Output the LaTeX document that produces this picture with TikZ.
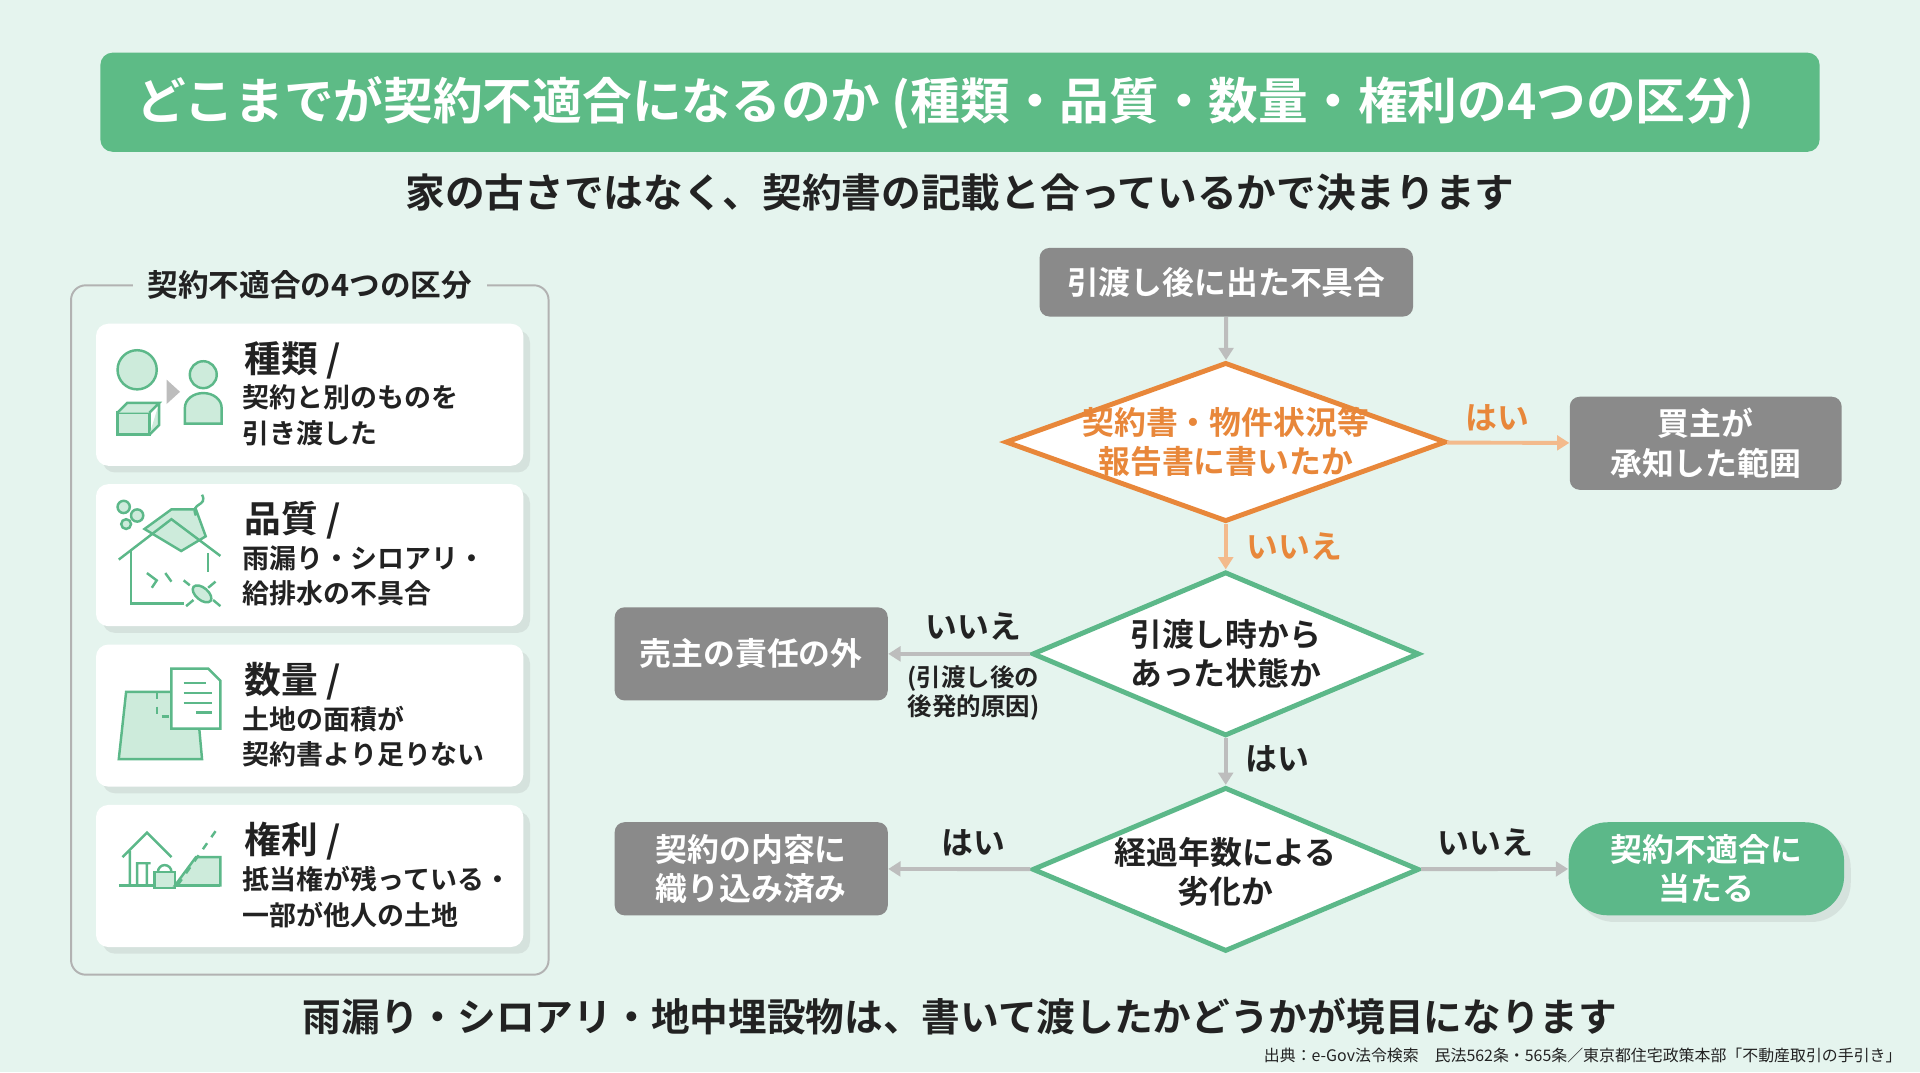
\documentclass[tikz,border=0pt]{standalone}
\usepackage{fontspec}
\setmainfont{Noto Sans CJK JP}[BoldFont={* Bold}]
\usetikzlibrary{shapes.geometric,arrows.meta,shadows}
\definecolor{bg}{HTML}{E5F4EE}
\definecolor{tgreen}{HTML}{5DBB86}
\definecolor{dgreen}{HTML}{5CB889}
\definecolor{lgreen}{HTML}{CDEBDB}
\definecolor{gbox}{HTML}{8A8A8A}
\definecolor{org}{HTML}{E8873A}
\definecolor{lorg}{HTML}{F3BA8C}
\definecolor{larr}{HTML}{BDBDBD}
\definecolor{txt}{HTML}{222222}
\tikzset{
 gbox/.style={fill=gbox,rounded corners=4pt,text=white,font=\bfseries\fontsize{13}{16}\selectfont,align=center,inner sep=0},
 dia/.style={diamond,draw,fill=white,line width=2pt,inner sep=0},
 dtext/.style={font=\bfseries\fontsize{13}{16}\selectfont,align=center,text=txt},
 card/.style={fill=white,rounded corners=5pt,drop shadow={opacity=0.15}},
 ctitle/.style={anchor=west,font=\bfseries\fontsize{15}{18}\selectfont,text=txt},
 cbody/.style={anchor=north west,font=\bfseries\fontsize{11}{14.5}\selectfont,text=txt,align=left,inner sep=0},
 arr/.style={-{Triangle[length=5pt,width=6pt]},line width=1.6pt,draw=larr},
 oarr/.style={-{Triangle[length=5pt,width=6pt]},line width=1.6pt,draw=lorg},
 lab/.style={font=\bfseries\fontsize{13}{16}\selectfont,text=txt},
 icon/.style={draw=dgreen,line width=1pt},
}
\begin{document}
\begin{tikzpicture}[x=0.5pt,y=-0.5pt]
\fill[bg] (0,0) rectangle (1568,875.5);
\useasboundingbox (0,0) rectangle (1568,875.5);
% title
\node[fill=tgreen,rounded corners=5pt,minimum width=702pt,minimum height=40.5pt] (title) at (784,83.5) {};
\node[text=white,font=\bfseries\fontsize{20.3}{24}\selectfont] (titlet) at (772,84) {どこまでが契約不適合になるのか (種類・品質・数量・権利の4つの区分)};
\node[font=\bfseries\fontsize{16.2}{18}\selectfont,text=txt] (sub) at (784,157) {家の古さではなく、契約書の記載と合っているかで決まります};
% left panel
\draw[draw=gray!60,line width=0.8pt,rounded corners=6pt] (58,233) rectangle (448,796);
\node[fill=bg,font=\bfseries\fontsize{12.5}{15}\selectfont,text=txt,inner xsep=6pt] (ptitle) at (253,233) {契約不適合の4つの区分};
\foreach \y/\n in {264/c1,395/c2,526/c3,657/c4}{
 \node[card,minimum width=174.5pt,minimum height=58pt,anchor=north west] (\n) at (78,\y) {};
}
\node[ctitle] (t1) at (193,294) {種類 /};
\node[cbody] (b1) at (198,314) {契約と別のものを\\引き渡した};
\node[ctitle] (t2) at (193,425) {品質 /};
\node[cbody] (b2) at (198,445) {雨漏り・シロアリ・\\給排水の不具合};
\node[ctitle] (t3) at (193,556) {数量 /};
\node[cbody] (b3) at (198,576) {土地の面積が\\契約書より足りない};
\node[ctitle] (t4) at (193,687) {権利 /};
\node[cbody] (b4) at (198,707) {抵当権が残っている・\\一部が他人の土地};
% icon 1
\draw[icon,fill=lgreen] (112,302) circle (8pt);
\draw[icon,fill=lgreen] (96,337) rectangle (122,355);
\draw[icon,fill=lgreen] (96,337) -- (104,329) -- (130,329) -- (122,337) (130,329) -- (130,347) -- (122,355);
\fill[larr] (136,310) -- (147,320) -- (136,330) -- cycle;
\draw[icon,fill=lgreen] (166,306) circle (5.5pt);
\draw[icon,fill=lgreen] (151,346) -- (151,333) arc (180:360:15 and 12) -- (181,346) -- cycle;
% icon 2
\draw[icon,fill=lgreen] (118,432) -- (140,416) -- (160,416) -- (168,438) -- (148,450) -- cycle;
\draw[icon] (97,457) -- (140,424) -- (180,454);
\draw[icon] (107,450) -- (107,493) -- (150,493) (170,452) -- (170,467);
\draw[icon] (120,468) -- (128,474) -- (124,480) (135,468) -- (140,475);
\draw[icon,fill=lgreen] (101,414) circle (2.5pt) (112,421) circle (2.5pt) (103,428) circle (2pt);
\draw[icon] (160,421) .. controls (155,410) and (170,414) .. (165,404);
\draw[icon,fill=lgreen,rotate around={-40:(165,485)}] (165,485) ellipse (9 and 5);
\draw[icon] (155,478) -- (150,474) (158,490) -- (152,495) (170,480) -- (176,475) (174,490) -- (180,495);
% icon 3
\draw[icon,fill=lgreen] (103,565) -- (160,565) -- (165,620) -- (97,620) -- cycle;
\draw[icon,dashed] (128,565) -- (128,585) -- (140,585);
\draw[icon,fill=white] (140,546) -- (170,546) -- (180,556) -- (180,595) -- (140,595) -- cycle;
\draw[icon] (150,558) -- (168,558) (150,566) -- (173,566) (150,574) -- (173,574) (160,582) -- (173,582);
% icon 4
\draw[icon] (97,723) -- (180,723);
\draw[icon] (100,700) -- (120,680) -- (140,700) (106,695) -- (106,723) (112,705) rectangle (120,723) (112,705) -- (123,705);
\draw[icon,fill=lgreen] (126,712) rectangle (143,725);
\draw[icon] (129,712) arc (180:360:5.5);
\draw[icon,fill=lgreen] (143,723) -- (160,700) -- (180,700) -- (180,723) -- cycle;
\draw[icon,dashed] (145,723) -- (178,676);
% flowchart
\node[gbox,minimum width=152.5pt,minimum height=28pt] (start) at (1001.5,230.5) {引渡し後に出た不具合};
\node[dia,draw=org,minimum width=180pt,minimum height=65pt] (d1) at (1001,361) {};
\node[dtext,text=org] (d1t) at (1001,361) {契約書・物件状況等\\報告書に書いたか};
\node[gbox,minimum width=111pt,minimum height=38pt] (buyer) at (1393,362) {買主が\\承知した範囲};
\node[dia,draw=dgreen,minimum width=158pt,minimum height=67pt] (d2) at (1001,534) {};
\node[dtext] (d2t) at (1001,534) {引渡し時から\\あった状態か};
\node[gbox,minimum width=111.5pt,minimum height=38pt] (seller) at (613.5,534) {売主の責任の外};
\node[dia,draw=dgreen,minimum width=158pt,minimum height=67pt] (d3) at (1001,710) {};
\node[dtext] (d3t) at (1001,712) {経過年数による\\劣化か};
\node[gbox,minimum width=111.5pt,minimum height=38pt] (incl) at (613.5,709.5) {契約の内容に\\織り込み済み};
\node[fill=dgreen,rounded corners=16pt,minimum width=112.5pt,minimum height=38pt,text=white,font=\bfseries\fontsize{13}{16}\selectfont,align=center,inner sep=0,drop shadow={opacity=0.15}] (hit) at (1393.5,709.5) {契約不適合に\\当たる};
\draw[arr] (start) -- (d1);
\draw[oarr] (d1) -- (buyer);
\draw[oarr] (d1) -- (d2);
\draw[arr] (d2) -- (seller);
\draw[arr] (d2) -- (d3);
\draw[arr] (d3) -- (incl);
\draw[arr] (d3) -- (hit);
\node[lab,text=org] (l1) at (1223,341) {はい};
\node[lab,text=org] (l2) at (1057,446) {いいえ};
\node[lab] (l3) at (795,512) {いいえ};
\node[font=\bfseries\fontsize{10}{12}\selectfont,text=txt,align=center] (l3b) at (795,566) {(引渡し後の\\後発的原因)};
\node[lab] (l4) at (1043,620) {はい};
\node[lab] (l5) at (795,688) {はい};
\node[lab] (l6) at (1213,688) {いいえ};
\node[font=\bfseries\fontsize{15.8}{18}\selectfont,text=txt] (bottom) at (784,830) {雨漏り・シロアリ・地中埋設物は、書いて渡したかどうかが境目になります};
\node[anchor=east,font=\fontsize{6.5}{8}\selectfont,text=txt] (src) at (1560,862) {出典：e-Gov法令検索\quad 民法562条・565条／東京都住宅政策本部「不動産取引の手引き」};
\end{tikzpicture}
\end{document}
